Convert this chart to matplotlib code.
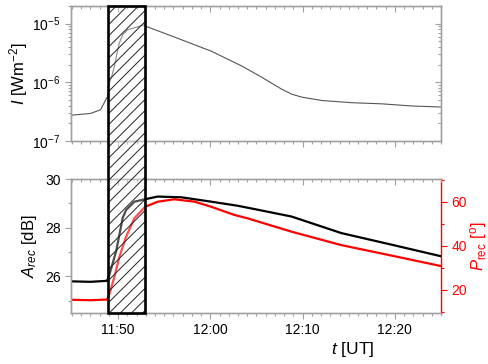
import numpy as np
import matplotlib
matplotlib.use("Agg")
import matplotlib.pyplot as plt
from matplotlib.patches import Rectangle
from matplotlib.ticker import FixedLocator, MultipleLocator, FuncFormatter, LogLocator, NullFormatter
from matplotlib.transforms import blended_transform_factory

plt.rcParams["font.family"] = ["Liberation Sans", "DejaVu Sans"]
plt.rcParams["mathtext.fontset"] = "custom"
plt.rcParams["mathtext.rm"] = "Liberation Sans"
plt.rcParams["mathtext.it"] = "Liberation Sans:italic"
plt.rcParams["hatch.linewidth"] = 0.7

# time in minutes after 11:00 UT
t_flux = [44.9, 47.0, 48.1, 48.5, 48.88, 49.06, 49.31, 49.6, 49.89, 50.14,
          50.51, 51.05, 51.77, 52.86, 53.04, 56.5, 60.1, 63.4, 65.5, 67.7,
          68.8, 69.9, 72.1, 75.3, 78.6, 81.9, 85.0]
flux = [2.75e-7, 2.95e-7, 3.4e-7, 4.5e-7, 5.8e-7, 9.7e-7, 1.26e-6, 1.86e-6,
        3.15e-6, 4.7e-6, 6.5e-6, 7.9e-6, 8.5e-6, 9.6e-6, 9.0e-6, 5.6e-6,
        3.4e-6, 1.9e-6, 1.24e-6, 7.7e-7, 6.3e-7, 5.6e-7, 4.9e-7, 4.5e-7,
        4.3e-7, 3.95e-7, 3.8e-7]

t_amp = [44.9, 47.0, 48.8, 49.05, 49.8, 50.5, 50.87, 51.77, 52.93, 54.3,
         56.85, 60.1, 63.0, 65.0, 68.8, 74.2, 79.7, 85.0]
amp = [25.8, 25.78, 25.82, 26.06, 27.05, 28.4, 28.73, 29.07, 29.17, 29.28,
       29.25, 29.07, 28.9, 28.75, 28.46, 27.78, 27.3, 26.83]

t_phase = [44.9, 47.0, 48.8, 49.05, 49.6, 50.15, 50.87, 51.77, 52.93, 54.3,
           56.1, 58.3, 60.1, 62.6, 64.0, 68.8, 74.2, 79.7, 85.0]
phase = [15.5, 15.3, 15.6, 17.9, 25.9, 35.0, 44.1, 52.5, 57.7, 60.0,
         61.1, 60.0, 57.7, 54.0, 52.5, 46.4, 40.3, 35.5, 30.8]

box_t = (48.9, 52.95)
xlim = (44.9, 85.0)
gray = "#a0a0a0"
MAJ, MIN = 4, 2.2


def fmt_time(m, pos):
    m = int(round(m))
    return f"{11 + m // 60}:{m % 60:02d}"


def time_ticks(ax):
    ax.xaxis.set_major_locator(MultipleLocator(10))
    ax.xaxis.set_minor_locator(MultipleLocator(1))


def tick_len(ax):
    ax.tick_params(which="major", length=MAJ)
    ax.tick_params(which="minor", length=MIN)


def gray_spines(ax):
    for s in ax.spines.values():
        s.set_color(gray)
        s.set_linewidth(0.9)


fig = plt.figure(figsize=(4.88, 3.64), dpi=100)
ax1 = fig.add_axes([0.1455, 0.6126, 0.7582, 0.3709])
ax2 = fig.add_axes([0.1455, 0.1401, 0.7582, 0.3681], sharex=ax1)

# ---- top: flux ----
ax1.plot(t_flux, flux, color="#555555", lw=0.8)
ax1.set_yscale("log")
ax1.set_ylim(1e-7, 2e-5)
ax1.set_xlim(*xlim)
ax1.yaxis.set_major_locator(FixedLocator([1e-7, 1e-6, 1e-5]))
ax1.yaxis.set_major_formatter(FuncFormatter(lambda v, p: f"$10^{{{int(round(np.log10(v)))}}}$"))
ax1.yaxis.set_minor_locator(LogLocator(base=10, subs=np.arange(2, 10)))
ax1.yaxis.set_minor_formatter(NullFormatter())
ax1.set_ylabel(r"$I$ [Wm$^{-2}$]", fontsize=12, labelpad=2)
time_ticks(ax1)
gray_spines(ax1)
ax1.tick_params(which="both", direction="out", colors=gray, labelcolor="black",
                labelsize=10, width=0.8, labelbottom=False)
tick_len(ax1)

# inward ticks on the top and right sides of the upper panel
ax1r = ax1.twinx()
ax1r.set_yscale("log")
ax1r.set_ylim(ax1.get_ylim())
ax1r.yaxis.set_major_locator(FixedLocator([1e-7, 1e-6, 1e-5]))
ax1r.yaxis.set_minor_locator(LogLocator(base=10, subs=np.arange(2, 10)))
ax1r.tick_params(which="both", direction="in", colors=gray, labelright=False, width=0.8)
tick_len(ax1r)
gray_spines(ax1r)
ax1t = ax1.twiny()
ax1t.set_xlim(*xlim)
time_ticks(ax1t)
ax1t.tick_params(which="both", direction="in", colors=gray, labeltop=False, width=0.8)
tick_len(ax1t)
gray_spines(ax1t)

# ---- bottom: amplitude / phase ----
ax3 = ax2.twinx()
ax3.plot(t_phase, phase, color="red", lw=1.6)
ax3.set_ylim(9.5, 70.3)
ax3.yaxis.set_major_locator(MultipleLocator(20))
ax3.yaxis.set_minor_locator(MultipleLocator(10))
ax3.set_ylabel(r"$P_{\rm rec}$ [$^{\rm o}$]", fontsize=12, color="red", labelpad=1)
gray_spines(ax3)
ax3.spines["right"].set_color("red")
ax3.spines["right"].set_linewidth(1.0)
ax3.tick_params(axis="y", which="both", colors="red", labelsize=10, width=0.8, direction="out")
tick_len(ax3)

ax2.plot(t_amp, amp, color="black", lw=1.6)
ax2.set_ylim(24.5, 30)
ax2.yaxis.set_major_locator(MultipleLocator(2))
ax2.yaxis.set_minor_locator(MultipleLocator(1))
ax2.set_ylabel(r"$A_{rec}$ [dB]", fontsize=12, labelpad=4)
ax2.set_zorder(ax3.get_zorder() + 1)
ax2.patch.set_visible(False)
time_ticks(ax2)
ax2.xaxis.set_major_formatter(FuncFormatter(fmt_time))
ax2.set_xlabel(r"$t$ [UT]", fontsize=12.5)
ax2.xaxis.set_label_coords((353 - 71) / 370, -0.2)
gray_spines(ax2)
ax2.spines["right"].set_visible(False)
ax2.tick_params(which="both", direction="out", colors=gray, labelcolor="black",
                labelsize=10, width=0.8)
tick_len(ax2)

ax2t = ax2.twiny()
ax2t.set_xlim(*xlim)
time_ticks(ax2t)
ax2t.tick_params(which="both", direction="in", colors=gray, labeltop=False, width=0.8)
tick_len(ax2t)
gray_spines(ax2t)
ax2t.spines["right"].set_visible(False)

# ---- hatched box spanning both panels ----
trans = blended_transform_factory(ax1.transData, fig.transFigure)
y0, y1 = 0.1401, 0.9835
fig.add_artist(Rectangle((box_t[0], y0), box_t[1] - box_t[0], y1 - y0, transform=trans,
                         facecolor=(1, 1, 1, 0.3), edgecolor="#222222", hatch="///",
                         lw=0, zorder=5))
fig.add_artist(Rectangle((box_t[0], y0), box_t[1] - box_t[0], y1 - y0, transform=trans,
                         facecolor="none", edgecolor="black", lw=1.9, zorder=6))

fig.savefig("out.png", dpi=100)
